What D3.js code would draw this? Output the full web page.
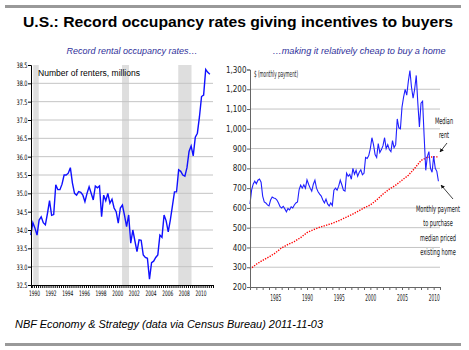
<!DOCTYPE html>
<html>
<head>
<meta charset="utf-8">
<script src="https://cdn.jsdelivr.net/npm/d3@7"></script>
<style>
  body { margin: 0; background: #fff; }
  svg { display: block; }
</style>
</head>
<body>
<div id="chart"></div>
<script>
// ---- data ----
// renters (millions), quarterly from 1990 Q1 to 2011 Q3
const renterStart = 1990;
const renters = [
  33.86, 34.20, 34.05, 33.86, 34.27, 34.36, 34.20, 34.14,
  34.45, 34.80, 34.40, 34.42, 35.23, 35.10, 35.10, 35.25,
  35.50, 35.50, 35.55, 35.70, 35.28, 35.00, 34.95, 35.05,
  35.03, 34.95, 34.77, 35.00, 35.18, 35.00, 34.82, 35.20,
  35.15, 35.20, 34.36, 34.95, 34.80, 35.00, 34.73, 34.84,
  34.60, 34.50, 34.19, 34.60, 34.68, 34.40, 34.09, 34.41,
  33.64, 34.00, 33.70, 33.41, 33.73, 33.72, 33.32, 33.25,
  33.23, 32.66, 33.11, 33.15, 33.25, 33.32, 33.86, 33.80,
  34.41, 34.25, 33.95, 34.27, 34.65, 35.04, 35.04, 35.64,
  35.60, 35.50, 35.47, 35.70, 36.14, 36.29, 36.02, 36.53,
  36.64, 37.09, 37.64, 37.68, 38.38, 38.30, 38.25
];
const recessions = [[1990.42, 1991.08], [2001.08, 2001.92], [2007.83, 2009.42]];
const renterTicks = [32.5, 33.0, 33.5, 34.0, 34.5, 35.0, 35.5, 36.0, 36.5, 37.0, 37.5, 38.0, 38.5];
const renterYearLabels = [1990, 1992, 1994, 1996, 1998, 2000, 2002, 2004, 2006, 2008, 2010];

// monthly payment to buy median priced home ($), quarterly from 1981 Q1
const paymentStart = 1981;
const payment = [
  620, 690, 720, 735, 722, 740, 746, 730,
  660, 630, 625, 615, 610, 640, 655, 650,
  648, 640, 625, 606, 600, 608, 595, 580,
  597, 590, 606, 600, 615, 625, 630, 691,
  715, 700, 717, 700, 742, 720, 700, 685,
  720, 740, 700, 682, 670, 660, 640, 625,
  645, 620, 610, 625, 612, 690, 700, 690,
  710, 740, 717, 690, 685, 776, 760, 770,
  745, 800, 770, 790, 760, 780, 793, 768,
  775, 855, 850, 865, 900, 955, 920, 870,
  855, 925, 880, 895, 915, 955, 900, 920,
  895, 885, 940, 905, 920, 1050, 1005, 1000,
  1110, 1160, 1200, 1170, 1240, 1295, 1210, 1155,
  1200, 1270, 1130, 1010, 1130, 1140, 960, 790,
  860, 885, 800, 780, 862, 800, 785, 735
];
// median rent ($), annual
const rentYears = [1981, 1982, 1983, 1984, 1985, 1986, 1987, 1988, 1989, 1990,
  1991, 1992, 1993, 1994, 1995, 1996, 1997, 1998, 1999, 2000,
  2001, 2002, 2003, 2004, 2005, 2006, 2007, 2008, 2009, 2010, 2010.8];
const rent = [290, 315, 335, 352, 372, 398, 415, 430, 450, 475,
  490, 502, 512, 522, 535, 550, 565, 582, 600, 615,
  640, 670, 695, 715, 740, 765, 800, 840, 856, 858, 858];
const paymentTicks = [200, 300, 400, 500, 600, 700, 800, 900, 1000, 1100, 1200, 1300];
const paymentYearLabels = [1985, 1990, 1995, 2000, 2005, 2010];

// ---- setup ----
const width = 469, height = 350;
const narrow = '"Liberation Sans Narrow", "DejaVu Sans Condensed", sans-serif';
const sans = '"Liberation Sans", Arial, sans-serif';

const svg = d3.select('#chart').append('svg')
  .attr('width', width)
  .attr('height', height)
  .style('background', '#fff');

// frame lines top and bottom
svg.append('line').attr('x1', 5).attr('x2', 461).attr('y1', 6.5).attr('y2', 6.5)
  .attr('stroke', '#999').attr('stroke-width', 3);
svg.append('line').attr('x1', 5).attr('x2', 461).attr('y1', 344.5).attr('y2', 344.5)
  .attr('stroke', '#999').attr('stroke-width', 3);

// title
svg.append('text')
  .attr('x', 23).attr('y', 27)
  .attr('font-family', sans).attr('font-weight', 'bold').attr('font-size', 15)
  .attr('textLength', 430).attr('lengthAdjust', 'spacingAndGlyphs')
  .text('U.S.: Record occupancy rates giving incentives to buyers');

// subtitles
svg.append('text')
  .attr('x', 132).attr('y', 54)
  .attr('text-anchor', 'middle')
  .attr('font-family', sans).attr('font-style', 'italic').attr('font-size', 9)
  .attr('fill', '#30309a')
  .text('Record rental occupancy rates…');
svg.append('text')
  .attr('x', 359).attr('y', 54)
  .attr('text-anchor', 'middle')
  .attr('font-family', sans).attr('font-style', 'italic').attr('font-size', 9)
  .attr('fill', '#30309a')
  .attr('textLength', 173).attr('lengthAdjust', 'spacingAndGlyphs')
  .text('…making it relatively cheap to buy a home');

// footer
svg.append('text')
  .attr('x', 15).attr('y', 328)
  .attr('font-family', sans).attr('font-style', 'italic').attr('font-size', 10)
  .attr('textLength', 308).attr('lengthAdjust', 'spacingAndGlyphs')
  .text('NBF Economy & Strategy (data via Census Bureau) 2011-11-03');

// ---- left chart: renters ----
const xL = d3.scaleLinear().domain([1990.15, 2012]).range([31, 213]);
const yL = d3.scaleLinear().domain([32.5, 38.5]).range([285, 65]);

const left = svg.append('g');

// recession bands
left.selectAll('rect.rec')
  .data(recessions)
  .enter()
  .append('rect')
  .attr('x', d => xL(d[0]))
  .attr('width', d => xL(d[1]) - xL(d[0]))
  .attr('y', yL(38.5))
  .attr('height', yL(32.5) - yL(38.5))
  .attr('fill', '#dedede');

// gridlines
left.selectAll('line.grid')
  .data(renterTicks.filter(d => d > 32.5 && d < 38.5))
  .enter()
  .append('line')
  .attr('x1', xL.range()[0]).attr('x2', xL.range()[1])
  .attr('y1', d => yL(d)).attr('y2', d => yL(d))
  .attr('stroke', '#c4c4c4').attr('stroke-width', 1);

// line
const renterLine = d3.line()
  .x((d, i) => xL(renterStart + i / 4 + 0.125))
  .y(d => yL(d));
left.append('path')
  .datum(renters)
  .attr('d', renterLine)
  .attr('fill', 'none')
  .attr('stroke', '#1010ff')
  .attr('stroke-width', 1.4);

// y axis
const yAxisL = left.append('g')
  .attr('transform', `translate(${xL.range()[0]},0)`)
  .call(d3.axisLeft(yL).tickValues(renterTicks).tickSize(3).tickFormat(d3.format('.1f')));
yAxisL.select('.domain').attr('stroke', '#000');
yAxisL.selectAll('text')
  .attr('font-family', narrow).attr('font-size', 7.5).attr('fill', '#000')
  .attr('x', -3.5)
  .attr('textLength', 11).attr('lengthAdjust', 'spacingAndGlyphs');

// x axis: quarterly ticks
const quarters = d3.range(0, 88).map(i => 1990.15 + i / 4 + 0.1);
const xAxisL = left.append('g')
  .attr('transform', `translate(0,${yL.range()[0]})`)
  .call(d3.axisBottom(xL).tickValues(quarters).tickSize(3).tickFormat(''));
xAxisL.select('.domain').attr('stroke', '#000');
xAxisL.selectAll('line').attr('stroke', '#000');

left.append('g')
  .attr('transform', `translate(0,${yL.range()[0]})`)
  .call(d3.axisBottom(xL).tickValues(renterYearLabels.map(d => d + 0.5)).tickSize(0)
    .tickFormat(d => Math.floor(d)))
  .call(g => g.select('.domain').remove())
  .selectAll('text')
  .attr('font-family', narrow).attr('font-size', 7.5).attr('fill', '#000')
  .attr('y', 6)
  .attr('textLength', 11).attr('lengthAdjust', 'spacingAndGlyphs');

left.append('text')
  .attr('x', 38).attr('y', 76)
  .attr('font-family', sans).attr('font-size', 8.5)
  .attr('textLength', 102).attr('lengthAdjust', 'spacingAndGlyphs')
  .text('Number of renters, millions');

// ---- right chart: payment vs rent ----
const xR = d3.scaleLinear().domain([1981, 2011]).range([250, 440]);
const yR = d3.scaleLinear().domain([200, 1300]).range([287, 69.5]);

const right = svg.append('g');

right.selectAll('line.grid')
  .data(paymentTicks.filter(d => d > 200 && d < 1300))
  .enter()
  .append('line')
  .attr('x1', xR.range()[0]).attr('x2', xR.range()[1])
  .attr('y1', d => yR(d)).attr('y2', d => yR(d))
  .attr('stroke', '#c4c4c4').attr('stroke-width', 1);

const rentLine = d3.line()
  .x((d, i) => xR(rentYears[i]))
  .y(d => yR(d));
right.append('path')
  .datum(rent)
  .attr('d', rentLine)
  .attr('fill', 'none')
  .attr('stroke', '#ff0000')
  .attr('stroke-width', 1.4)
  .attr('stroke-dasharray', '1.3,1.3');

const paymentLine = d3.line()
  .x((d, i) => xR(paymentStart + i / 4))
  .y(d => yR(d));
right.append('path')
  .datum(payment)
  .attr('d', paymentLine)
  .attr('fill', 'none')
  .attr('stroke', '#2020ff')
  .attr('stroke-width', 1.1);

const yAxisR = right.append('g')
  .attr('transform', `translate(${xR.range()[0]},0)`)
  .call(d3.axisLeft(yR).tickValues(paymentTicks).tickSize(3).tickFormat(d3.format(',')));
yAxisR.select('.domain').attr('stroke', '#666');
yAxisR.selectAll('line').attr('stroke', '#666');
yAxisR.selectAll('text')
  .attr('font-family', narrow).attr('font-size', 8).attr('fill', '#222')
  .attr('x', -3.5);

const xAxisR = right.append('g')
  .attr('transform', `translate(0,${yR.range()[0]})`)
  .call(d3.axisBottom(xR).tickValues(d3.range(1981, 2012)).tickSize(3).tickFormat(''));
xAxisR.select('.domain').attr('stroke', '#666');
xAxisR.selectAll('line').attr('stroke', '#666');

right.append('g')
  .attr('transform', `translate(0,${yR.range()[0]})`)
  .call(d3.axisBottom(xR).tickValues(paymentYearLabels).tickSize(0).tickFormat(d3.format('d')))
  .call(g => g.select('.domain').remove())
  .selectAll('text')
  .attr('font-family', narrow).attr('font-size', 8.5).attr('fill', '#222')
  .attr('y', 8)
  .attr('textLength', 11).attr('lengthAdjust', 'spacingAndGlyphs');

right.append('text')
  .attr('x', 254).attr('y', 77)
  .attr('font-family', narrow).attr('font-size', 8.5).attr('fill', '#222')
  .attr('textLength', 44).attr('lengthAdjust', 'spacingAndGlyphs')
  .text('$ (monthly payment)');

// annotations, squeezed horizontally like the original
const annot = [
  { t: 'Median', x: 444, y: 124 },
  { t: 'rent', x: 444, y: 138 },
  { t: 'Monthly payment', x: 438, y: 212 },
  { t: 'to purchase', x: 438, y: 226 },
  { t: 'median priced', x: 438, y: 241 },
  { t: 'existing home', x: 438, y: 255 }
];
right.selectAll('g.annot')
  .data(annot)
  .enter()
  .append('g')
  .attr('transform', d => `translate(${d.x},${d.y}) scale(0.62,1)`)
  .append('text')
  .attr('text-anchor', 'middle')
  .attr('font-family', narrow).attr('font-size', 9).attr('fill', '#111')
  .text(d => d.t);

svg.append('defs').append('marker')
  .attr('id', 'arrow')
  .attr('viewBox', '0 0 10 10')
  .attr('refX', 9).attr('refY', 5)
  .attr('markerWidth', 5).attr('markerHeight', 5)
  .attr('orient', 'auto')
  .append('path')
  .attr('d', 'M0,0 L10,5 L0,10 z')
  .attr('fill', '#111');

right.append('line')
  .attr('x1', 447).attr('y1', 143).attr('x2', 440).attr('y2', 152)
  .attr('stroke', '#111').attr('stroke-width', 0.8)
  .attr('marker-end', 'url(#arrow)');
right.append('line')
  .attr('x1', 453).attr('y1', 199).attr('x2', 441).attr('y2', 185)
  .attr('stroke', '#111').attr('stroke-width', 0.8)
  .attr('marker-end', 'url(#arrow)');
</script>
</body>
</html>
